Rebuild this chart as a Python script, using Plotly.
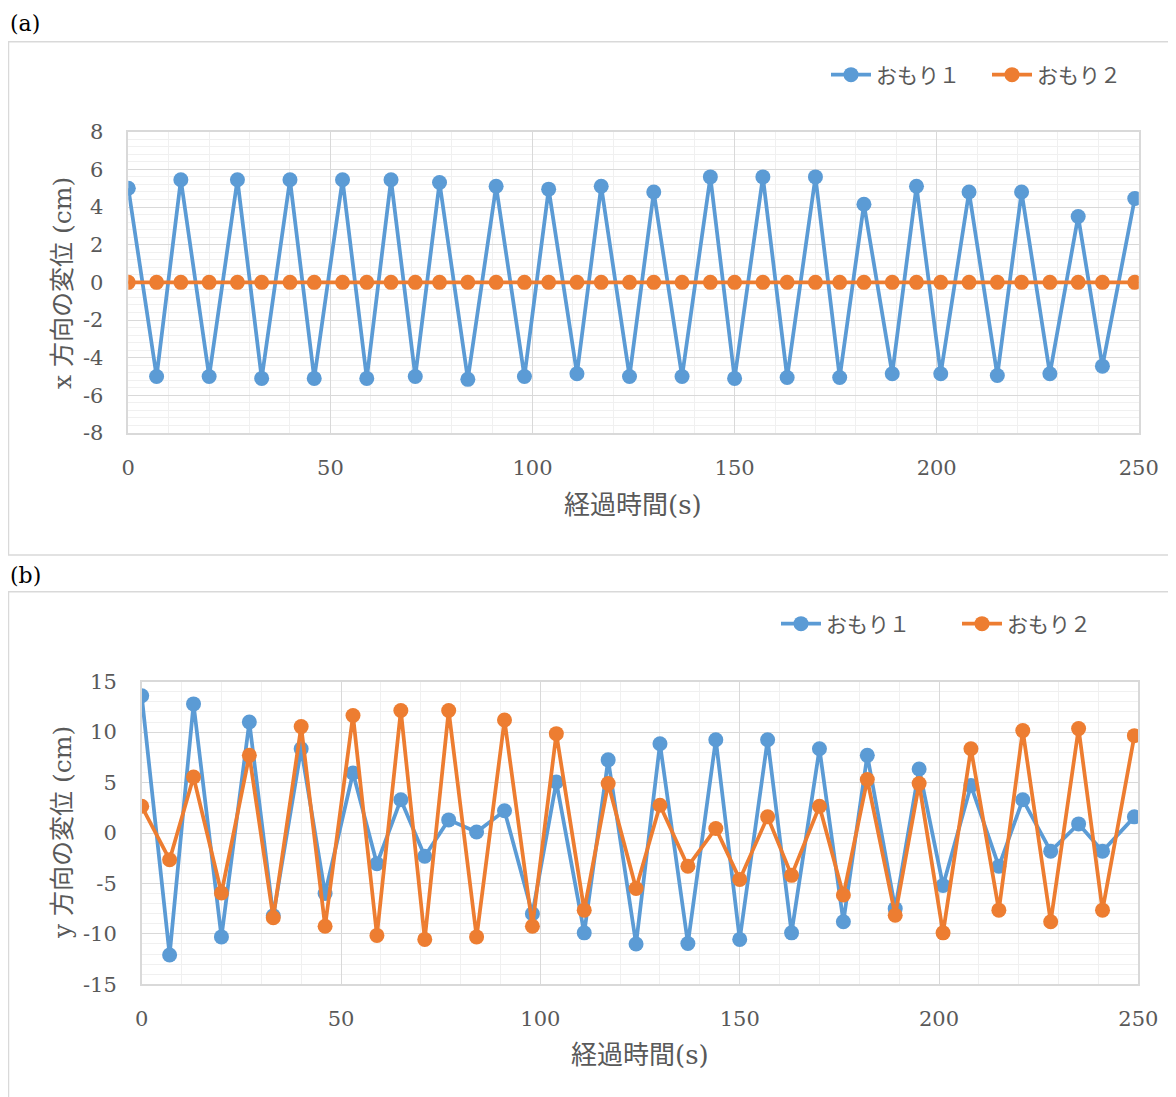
import plotly.graph_objects as go

# ---------------- data ----------------
time_s = [0, 7, 13, 20, 27, 33, 40, 46, 53, 59, 65, 71, 77, 84, 91, 98, 104, 111, 117, 124,
          130, 137, 144, 150, 157, 163, 170, 176, 182, 189, 195, 201, 208, 215, 221, 228, 235, 241, 249]

x_omori1 = [5.0, -5.0, 5.45, -5.0, 5.45, -5.1, 5.45, -5.1, 5.45, -5.1, 5.45, -5.0, 5.3, -5.15,
            5.1, -5.0, 4.95, -4.85, 5.1, -5.0, 4.8, -5.0, 5.6, -5.1, 5.6, -5.05, 5.6, -5.05,
            4.15, -4.85, 5.1, -4.85, 4.8, -4.95, 4.8, -4.85, 3.5, -4.45, 4.45]
x_omori2 = [0, 0, 0, 0, 0, 0, 0, 0, 0, 0, 0, 0, 0, 0, 0, 0, 0, 0, 0, 0,
            0, 0, 0, 0, 0, 0, 0, 0, 0, 0, 0, 0, 0, 0, 0, 0, 0, 0, 0]

y_omori1 = [13.6, -12.1, 12.8, -10.3, 11.0, -8.2, 8.35, -6.0, 5.95, -3.05, 3.3, -2.3, 1.3, 0.1,
            2.2, -8.0, 5.05, -9.9, 7.25, -11.0, 8.85, -10.95, 9.25, -10.55, 9.25, -9.9, 8.35,
            -8.8, 7.7, -7.5, 6.35, -5.2, 4.7, -3.3, 3.3, -1.8, 0.9, -1.8, 1.6]
y_omori2 = [2.65, -2.65, 5.55, -5.95, 7.7, -8.4, 10.55, -9.25, 11.65, -10.15, 12.15, -10.55,
            12.15, -10.3, 11.2, -9.25, 9.85, -7.65, 4.9, -5.5, 2.75, -3.3, 0.45, -4.6, 1.6,
            -4.2, 2.65, -6.15, 5.3, -8.15, 4.9, -9.9, 8.35, -7.65, 10.15, -8.8, 10.35, -7.65, 9.65]

series_names = ["おもり１", "おもり２"]
x_ticks = [0, 50, 100, 150, 200, 250]
ya_ticks = [-8, -6, -4, -2, 0, 2, 4, 6, 8]
yb_ticks = [-15, -10, -5, 0, 5, 10, 15]

# ---------------- style ----------------
W, H = 1176, 1097
OFF = 8  # page body margin
BLUE = "#5B9BD5"
ORANGE = "#ED7D31"
TXT = "#595959"
GRID = "#d9d9d9"
MINOR = "#f0f0f0"
FONT = "DejaVu Serif, Noto Sans CJK JP, serif"

def px(x):
    return (x - OFF) / W

def py(y):
    return 1 - (y - OFF) / H

fig = go.Figure()

def add_series(x, y, name, color, xa, ya, legend):
    fig.add_trace(go.Scatter(
        x=x, y=y, name=name, mode="lines+markers",
        line=dict(color=color, width=3.75),
        marker=dict(color=color, size=15),
        xaxis=xa, yaxis=ya, legend=legend,
    ))

add_series(time_s, x_omori1, series_names[0], BLUE, "x", "y", "legend")
add_series(time_s, x_omori2, series_names[1], ORANGE, "x", "y", "legend")
add_series(time_s, y_omori1, series_names[0], BLUE, "x2", "y2", "legend2")
add_series(time_s, y_omori2, series_names[1], ORANGE, "x2", "y2", "legend2")

def xaxis_cfg(dom, anchor):
    return dict(
        domain=dom, anchor=anchor, range=[0, 250], automargin=False,
        tickvals=x_ticks, ticktext=[str(v) for v in x_ticks],
        showgrid=True, gridcolor=GRID, gridwidth=1.3,
        minor=dict(dtick=10, tick0=0, showgrid=True, gridcolor=MINOR, gridwidth=1.3),
        showline=True, mirror=True, linecolor=GRID, linewidth=1.5,
        zeroline=False, ticks="", ticklabelstandoff=15,
        tickfont=dict(family=FONT, size=21, color=TXT),
    )

def yaxis_cfg(dom, anchor, rng, ticks, minor):
    return dict(
        domain=dom, anchor=anchor, range=rng, automargin=False,
        tickvals=ticks, ticktext=[str(v) for v in ticks],
        showgrid=True, gridcolor=GRID, gridwidth=1.3,
        minor=dict(dtick=minor, tick0=0, showgrid=True, gridcolor=MINOR, gridwidth=1.3),
        showline=True, mirror=True, linecolor=GRID, linewidth=1.5,
        zeroline=False, ticks="", ticklabelstandoff=19,
        tickfont=dict(family=FONT, size=21, color=TXT),
    )

fig.update_layout(
    width=W, height=H,
    margin=dict(l=0, r=0, t=0, b=0, autoexpand=False),
    paper_bgcolor="white", plot_bgcolor="white",
    font=dict(family=FONT, color=TXT, size=20),
    xaxis=xaxis_cfg([px(128.3), px(1138.8)], "y"),
    yaxis=yaxis_cfg([py(433), py(131.7)], "x", [-8, 8], ya_ticks, 0.4),
    xaxis2=xaxis_cfg([px(141.7), px(1138.4)], "y2"),
    yaxis2=yaxis_cfg([py(984.3), py(681.7)], "x2", [-15, 15], yb_ticks, 1),
    legend=dict(orientation="h", x=px(826), xanchor="left", y=py(75), yanchor="middle",
                entrywidth=106, itemwidth=40,
                font=dict(family=FONT, size=21, color=TXT), bgcolor="rgba(0,0,0,0)"),
    legend2=dict(orientation="h", x=px(776), xanchor="left", y=py(624), yanchor="middle",
                 entrywidth=126, itemwidth=40,
                 font=dict(family=FONT, size=21, color=TXT), bgcolor="rgba(0,0,0,0)"),
    showlegend=True,
)

# panel boxes
fig.add_shape(type="rect", xref="paper", yref="paper",
              x0=px(8.5), x1=px(1195), y0=py(555), y1=py(41.7),
              line=dict(color=GRID, width=1.5), fillcolor="rgba(0,0,0,0)", layer="below")
fig.add_shape(type="rect", xref="paper", yref="paper",
              x0=px(8.5), x1=px(1195), y0=py(1120), y1=py(591.7),
              line=dict(color=GRID, width=1.5), fillcolor="rgba(0,0,0,0)", layer="below")

def ann(text, x, y, size=21, angle=0, color=TXT, xanchor="center"):
    fig.add_annotation(text=text, x=px(x), y=py(y), xref="paper", yref="paper",
                       showarrow=False, textangle=angle, xanchor=xanchor, yanchor="middle",
                       font=dict(family=FONT, size=size, color=color))

ann("(a)", 8, 23, size=22, color="#000000", xanchor="left")
ann("(b)", 8, 575, size=22, color="#000000", xanchor="left")
ann("経過時間(s)", 633, 505, size=26)
ann("経過時間(s)", 640, 1055, size=26)
ann("x 方向の変位 (cm)", 62, 283, size=25, angle=-90)
ann("y 方向の変位 (cm)", 62, 833, size=25, angle=-90)

fig.write_html("out.html")
